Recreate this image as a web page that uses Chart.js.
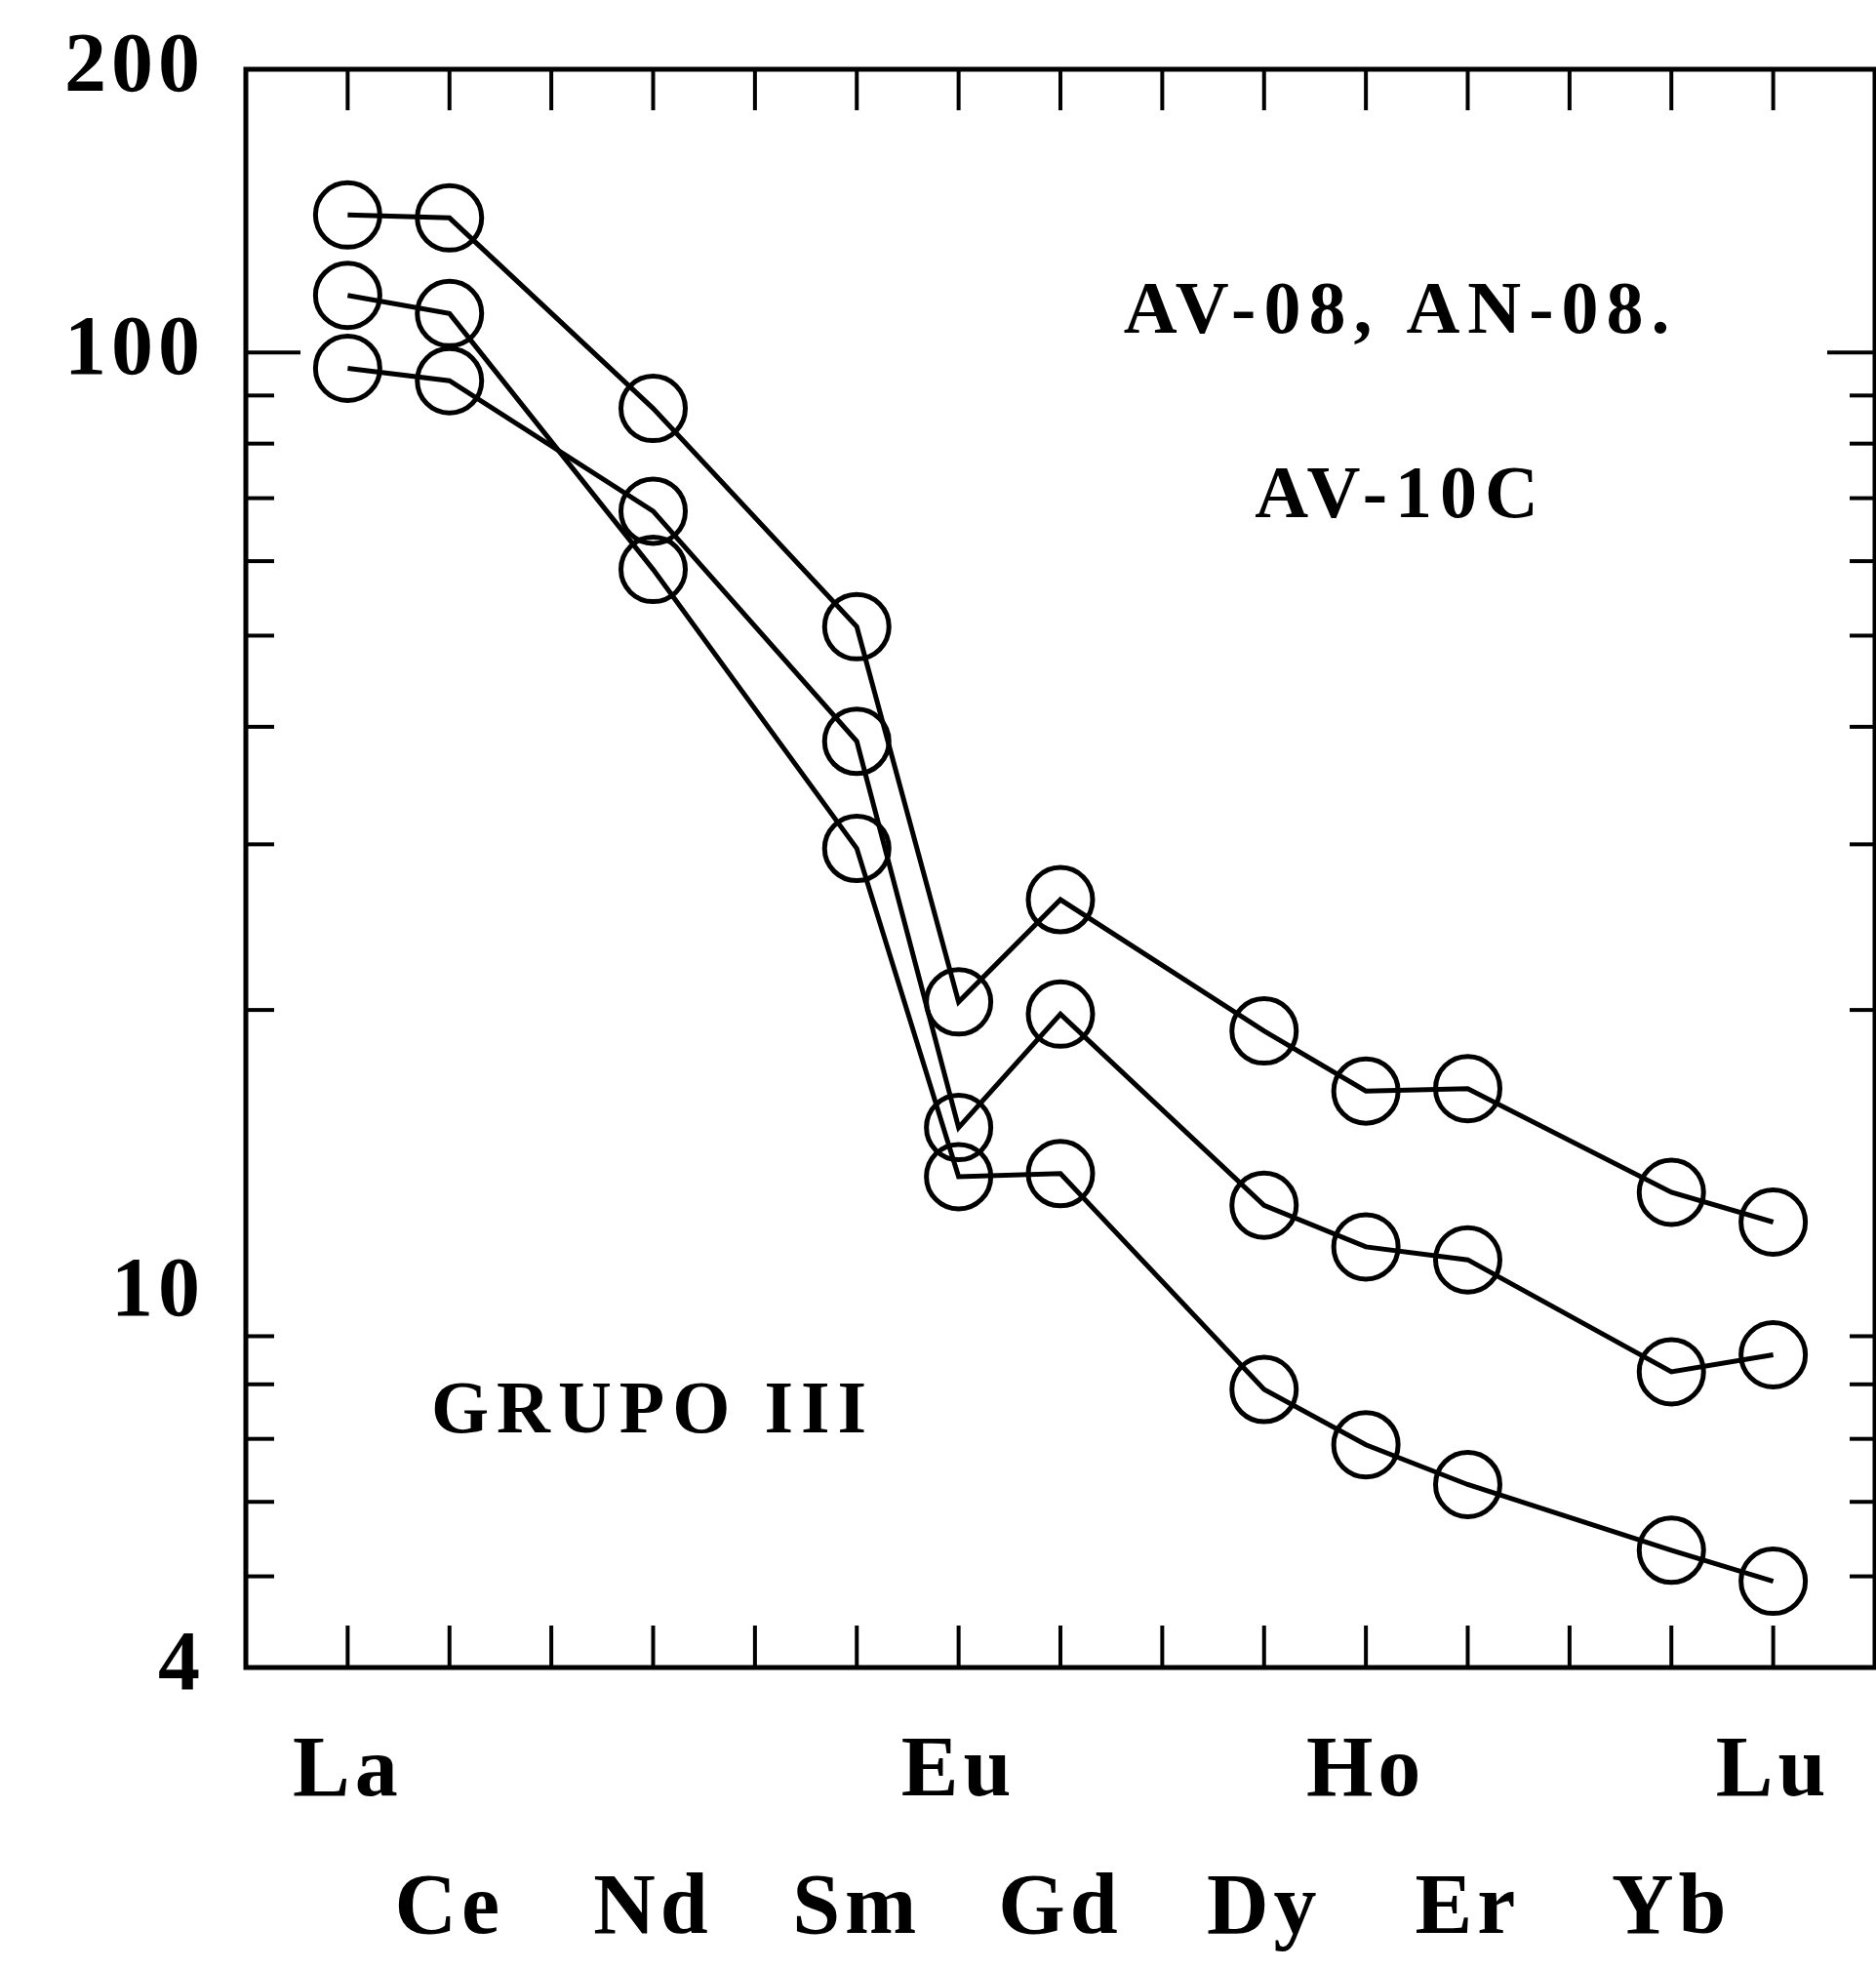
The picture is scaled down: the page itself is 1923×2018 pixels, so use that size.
<!DOCTYPE html>
<html>
<head>
<meta charset="utf-8">
<title>GRUPO III – REE</title>
<script src="https://cdn.jsdelivr.net/npm/chart.js@4/dist/chart.umd.min.js"></script>
<style>
  html, body { margin: 0; padding: 0; background: #fff; }
  #wrap { width: 1923px; height: 2018px; overflow: hidden; position: relative; }
  #ree { display: block; }
</style>
</head>
<body>
<div id="wrap"><canvas id="ree" width="1960" height="2018"></canvas></div>
<script>
// Rare earth elements along the x axis (index = position)
const elements = ['La','Ce','Pr','Nd','Pm','Sm','Eu','Gd','Tb','Dy','Ho','Er','Tm','Yb','Lu'];
// Element names printed in the first and second label rows
const upperRow = ['La','Eu','Ho','Lu'];
const lowerRow = ['Ce','Nd','Sm','Gd','Dy','Er','Yb'];

// Chondrite-normalised abundances (null = not analysed)
const av08  = [140, 139, null, 87.2, null, 51.1, 20.4, 26.2, null, 19.0, 16.4, 16.5, null, 12.8, 11.9];
const an08  = [115, 110, null, 58.8, null, 29.7, 13.3, 13.4, null, 7.9, 6.9, 6.26, null, 5.33, 4.94];
const av10c = [96.2, 93.3, null, 67.8, null, 38.6, 15.0, 19.8, null, 12.4, 11.2, 10.85, null, 8.25, 8.6];

// Logarithmic y axis
const yMin = 4, yMax = 200;
const yTickValues = [4,5,6,7,8,9,10,20,30,40,50,60,70,80,90,100,200];
const yLabelled   = [4,10,100,200];
const yMinorMarks = [5,6,7,8,9,20,30,40,50,60,70,80,90];
const yMajorMarks = [100];

// Captions
const sampleLines = ['AV-08, AN-08.', 'AV-10C'];
const groupName = 'GRUPO III';

const SERIF = '"Liberation Serif", "Times New Roman", serif';

function toPoints(arr) {
  return arr.map((v, i) => ({ x: i, y: v }));
}

function lineSet(label, arr) {
  return {
    label,
    data: toPoints(arr),
    borderColor: '#000',
    borderWidth: 5,
    pointRadius: 33,
    pointBorderWidth: 5,
    pointBorderColor: '#000',
    pointBackgroundColor: 'rgba(0,0,0,0)',
    pointStyle: 'circle',
    spanGaps: true,
    tension: 0,
    clip: false
  };
}

// Frame with inward tick marks on all four sides
const framePlugin = {
  id: 'frame',
  beforeDraw(chart) {
    chart.ctx.letterSpacing = '5px';
  },
  beforeDatasetsDraw(chart) {
    const { ctx, chartArea: a, scales: { x, y } } = chart;
    ctx.save();
    ctx.strokeStyle = '#000';
    ctx.lineWidth = 5;
    ctx.strokeRect(a.left, a.top, a.right - a.left, a.bottom - a.top);
    ctx.lineWidth = 4;
    const seg = (x1, y1, x2, y2) => { ctx.beginPath(); ctx.moveTo(x1, y1); ctx.lineTo(x2, y2); ctx.stroke(); };
    elements.forEach((_, i) => {
      const px = x.getPixelForValue(i);
      seg(px, a.top, px, a.top + 42);
      seg(px, a.bottom, px, a.bottom - 43);
    });
    y.ticks.forEach(t => {
      const py = y.getPixelForValue(t.value);
      if (yMajorMarks.includes(t.value)) {
        seg(a.left, py, a.left + 56, py);
        seg(a.right, py, a.right - 49, py);
      } else if (yMinorMarks.includes(t.value)) {
        seg(a.left, py, a.left + 29, py);
        seg(a.right, py, a.right - 26, py);
      }
    });
    ctx.restore();
  },
  afterDraw(chart) {
    const { ctx, scales: { x, y } } = chart;
    ctx.save();
    ctx.fillStyle = '#000';
    ctx.font = 'bold 76px ' + SERIF;
    ctx.letterSpacing = '8px';
    ctx.textBaseline = 'alphabetic';
    ctx.textAlign = 'center';
    const cx = x.getPixelForValue(10.34);
    ctx.fillText(sampleLines[0], cx, y.getPixelForValue(104.9));
    ctx.fillText(sampleLines[1], cx, y.getPixelForValue(66.8));
    ctx.textAlign = 'left';
    ctx.fillText(groupName, x.getPixelForValue(0.82), y.getPixelForValue(7.12));
    ctx.restore();
    ctx.letterSpacing = '0px';
  }
};

new Chart(document.getElementById('ree'), {
  type: 'line',
  data: {
    datasets: [lineSet('AV-08', av08), lineSet('AN-08', an08), lineSet('AV-10C', av10c)]
  },
  options: {
    responsive: false,
    animation: false,
    devicePixelRatio: 1,
    layout: { padding: { top: 71, right: 32, bottom: 0, left: 0 } },
    plugins: { legend: { display: false }, tooltip: { enabled: false } },
    scales: {
      x: {
        type: 'linear',
        min: -1,
        max: 15,
        grid: { display: false, drawTicks: false, tickLength: 0 },
        border: { display: false },
        ticks: {
          stepSize: 1,
          autoSkip: false,
          maxRotation: 0,
          minRotation: 0,
          padding: 38,
          color: '#000',
          font: { family: SERIF, size: 88, weight: 'bold', lineHeight: 1.6 },
          callback(value) {
            const name = elements[value];
            if (!name) return '';
            if (upperRow.includes(name)) return [name, ''];
            if (lowerRow.includes(name)) return ['', name];
            return '';
          }
        },
        afterFit(scale) {
          scale.height = 2018 - 1709;
          scale.paddingLeft = 0;
          scale.paddingRight = 0;
        }
      },
      y: {
        type: 'logarithmic',
        min: yMin,
        max: yMax,
        grid: { display: false, drawTicks: false, tickLength: 0 },
        border: { display: false },
        afterBuildTicks(scale) {
          scale.ticks = yTickValues.map(v => ({ value: v }));
        },
        ticks: {
          autoSkip: false,
          padding: 42,
          color: '#000',
          font: { family: SERIF, size: 86, weight: 'bold' },
          callback(value) {
            return yLabelled.includes(value) ? String(value) : '';
          }
        },
        afterFit(scale) {
          scale.width = 252;
          scale.paddingTop = 0;
          scale.paddingBottom = 0;
        }
      }
    }
  },
  plugins: [framePlugin]
});
</script>
</body>
</html>
